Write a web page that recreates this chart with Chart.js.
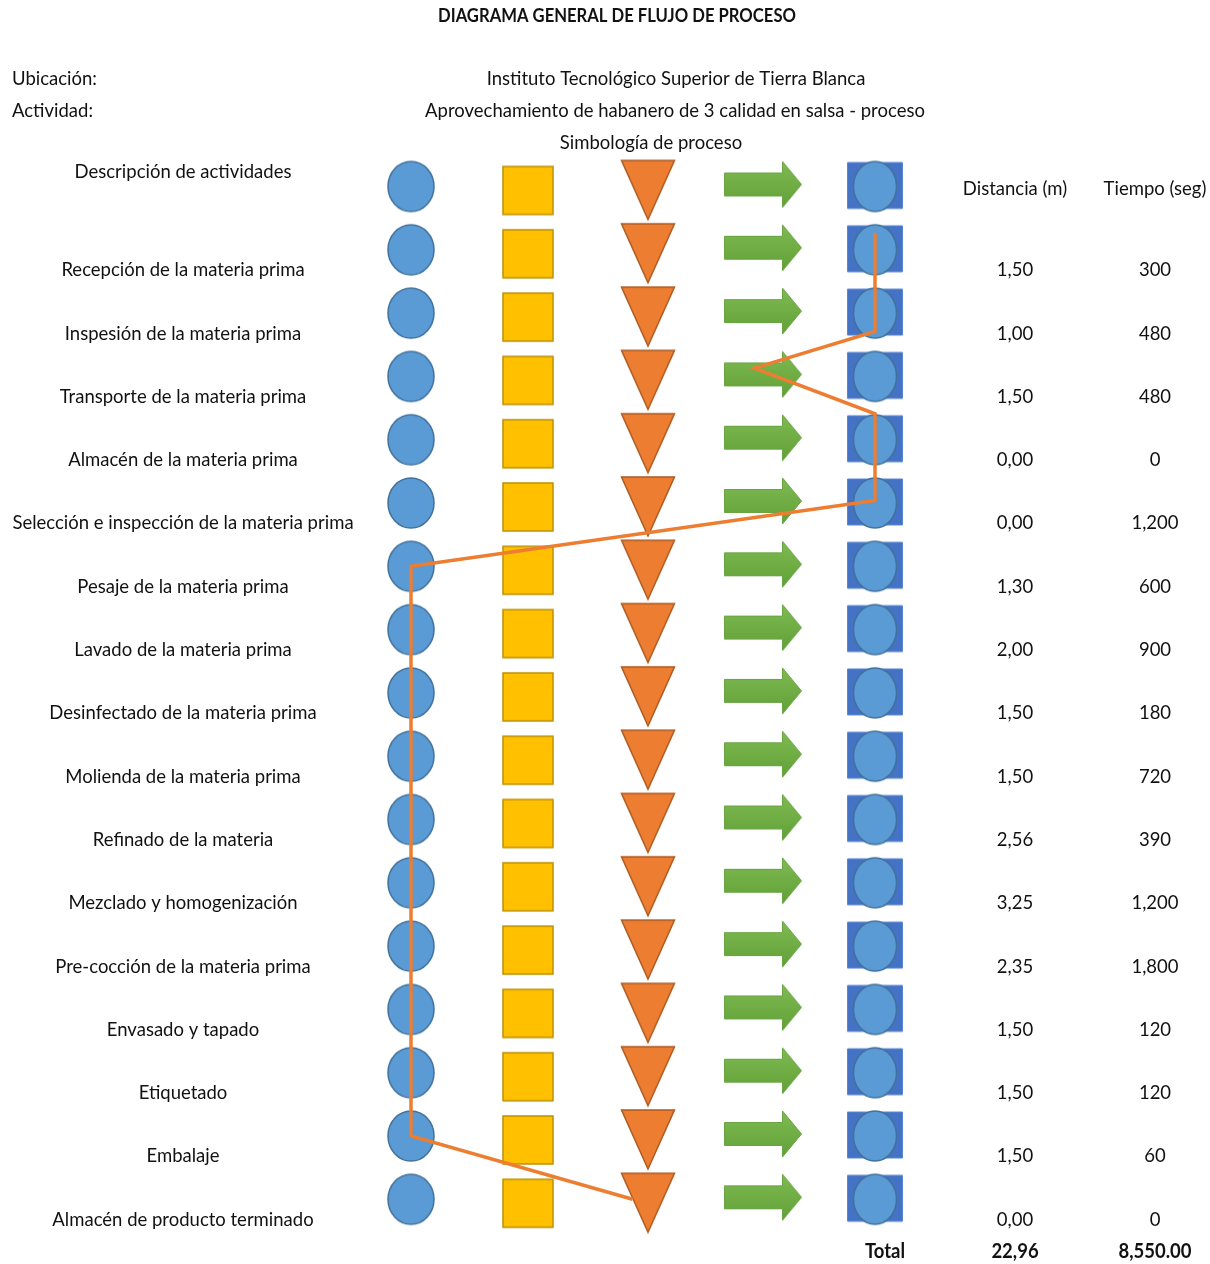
<!DOCTYPE html>
<html>
<head>
<meta charset="utf-8">
<script src="https://cdn.jsdelivr.net/npm/chart.js@4.4.1/dist/chart.umd.min.js"></script>
<style>
  html, body { margin: 0; padding: 0; background: #fff; }
  #wrap { width: 1210px; height: 1264px; }
</style>
</head>
<body>
<div id="wrap"><canvas id="flowChart" width="1210" height="1264"></canvas></div>
<script>
// activity rows (row 1..16), row 0 is the header row of symbols
const activities = [
    'Recepción de la materia prima',
    'Inspesión de la materia prima',
    'Transporte de la materia prima',
    'Almacén de la materia prima',
    'Selección e inspección de la materia prima',
    'Pesaje de la materia prima',
    'Lavado de la materia prima',
    'Desinfectado de la materia prima',
    'Molienda de la materia prima',
    'Refinado de la materia',
    'Mezclado y homogenización',
    'Pre-cocción de la materia prima',
    'Envasado y tapado',
    'Etiquetado',
    'Embalaje',
    'Almacén de producto terminado'
];
const distances = [1.50, 1.00, 1.50, 0.00, 0.00, 1.30, 2.00, 1.50, 1.50, 2.56, 3.25, 2.35, 1.50, 1.50, 1.50, 0.00];
const times = [300, 480, 480, 0, 1200, 600, 900, 180, 720, 390, 1200, 1800, 120, 120, 60, 0];

// symbol columns
const symbolNames = ['Operación', 'Inspección', 'Almacenamiento', 'Transporte', 'Operación combinada'];
const symbolCols = [0, 1, 2, 3, 4];

// orange flow line: column and row of each vertex
const flowCol = [4, 4, 2.96, 4, 4, 0, 0, 1.91];
const flowRow = [0.73, 2.29, 2.87, 3.59, 4.96, 6, 15, 16];

const FONT = 'Lato, "Liberation Sans", sans-serif';
const SQUEEZE = 0.925;

function makeSymbol(kind) {
    const c = document.createElement('canvas');
    c.width = 100; c.height = 90;
    const g = c.getContext('2d');
    g.translate(50, 45);
    g.lineWidth = 1.5;
    if (kind === 0) {
        g.beginPath();
        g.ellipse(0, 0, 23, 25, 0, 0, Math.PI * 2);
        g.fillStyle = '#5b9bd5'; g.fill();
        g.strokeStyle = '#41719c'; g.stroke();
    } else if (kind === 1) {
        g.beginPath();
        g.rect(-24, -20, 50, 48);
        g.fillStyle = '#ffc000'; g.fill();
        g.strokeStyle = '#bf9000'; g.stroke();
    } else if (kind === 2) {
        g.translate(5, 0);
        g.beginPath();
        g.moveTo(-26.5, -26); g.lineTo(26.5, -26); g.lineTo(0, 33); g.closePath();
        g.fillStyle = '#ed7d31'; g.fill();
        g.strokeStyle = '#ae5a21'; g.stroke();
    } else if (kind === 3) {
        g.translate(4, 0);
        const grad = g.createLinearGradient(0, -24, 0, 24);
        grad.addColorStop(0, '#7fba52');
        grad.addColorStop(1, '#5f9e36');
        g.beginPath();
        g.moveTo(-38.5, -13.5); g.lineTo(19.5, -13.5); g.lineTo(19.5, -25);
        g.lineTo(38.5, -2); g.lineTo(19.5, 21); g.lineTo(19.5, 9.5);
        g.lineTo(-38.5, 9.5); g.closePath();
        g.fillStyle = grad; g.fill();
        g.strokeStyle = '#6aa544'; g.lineWidth = 1; g.stroke();
    } else {
        g.beginPath();
        g.rect(-27.5, -24, 55, 46);
        g.fillStyle = '#4472c4'; g.fill();
        g.strokeStyle = '#5a86d0'; g.lineWidth = 1; g.stroke();
        g.beginPath();
        g.ellipse(0, 0, 21.5, 25, 0, 0, Math.PI * 2);
        g.fillStyle = '#5b9bd5'; g.fill();
        g.strokeStyle = '#41719c'; g.lineWidth = 1.5; g.stroke();
    }
    return c;
}

const rowIdx = [0].concat(activities.map((a, i) => i + 1));

const symbolSets = symbolCols.map((col, k) => ({
    type: 'scatter',
    label: symbolNames[k],
    data: rowIdx.map(r => ({ x: col, y: r })),
    pointStyle: makeSymbol(k),
    pointRadius: 25,
    pointHoverRadius: 25
}));

const flowSet = {
    type: 'line',
    label: 'Flujo',
    data: flowCol.map((x, i) => ({ x: x, y: flowRow[i] })),
    borderColor: '#ed7d31',
    borderWidth: 3.5,
    pointRadius: 0,
    tension: 0,
    fill: false
};

const fmtDist = v => v.toFixed(2).replace('.', ',');
const fmtTime = v => v.toLocaleString('en-US');

// layout of the text columns (pixels)
const layout = {
    descX: 183, distX: 1015, timeX: 1155, totalLabelX: 885,
    rowTextDy: 20, totalY: 1252
};

// narrow text, like the condensed face of the original
function say(ctx, str, x, y) {
    ctx.save();
    ctx.translate(x, y);
    ctx.scale(SQUEEZE, 1);
    ctx.fillText(str, 0, 0);
    ctx.restore();
}

const textPlugin = {
    id: 'flowText',
    afterDatasetsDraw(chart) {
        const ctx = chart.ctx;
        const ys = chart.scales.y;
        ctx.save();
        ctx.fillStyle = '#111';
        ctx.textBaseline = 'middle';

        ctx.font = 'bold 18px ' + FONT;
        ctx.textAlign = 'center';
        say(ctx, 'DIAGRAMA GENERAL DE FLUJO DE PROCESO', 617, 16);

        ctx.font = '20px ' + FONT;
        ctx.textAlign = 'left';
        say(ctx, 'Ubicación:', 12, 79);
        say(ctx, 'Actividad:', 12, 111);
        ctx.textAlign = 'center';
        say(ctx, 'Instituto Tecnológico Superior de Tierra Blanca', 676, 79);
        say(ctx, 'Aprovechamiento de habanero de 3 calidad en salsa - proceso', 675, 111);
        say(ctx, 'Simbología de proceso', 651, 143);
        say(ctx, 'Descripción de actividades', layout.descX, 172);
        say(ctx, 'Distancia (m)', layout.distX, 189);
        say(ctx, 'Tiempo (seg)', layout.timeX, 189);

        activities.forEach((a, i) => {
            const y = ys.getPixelForValue(i + 1) + layout.rowTextDy;
            say(ctx, a, layout.descX, y);
            say(ctx, fmtDist(distances[i]), layout.distX, y);
            say(ctx, fmtTime(times[i]), layout.timeX, y);
        });

        const totalDist = distances.reduce((s, v) => s + v, 0);
        const totalTime = times.reduce((s, v) => s + v, 0);
        ctx.font = 'bold 20px ' + FONT;
        say(ctx, 'Total', layout.totalLabelX, layout.totalY);
        say(ctx, fmtDist(totalDist), layout.distX, layout.totalY);
        say(ctx, totalTime.toLocaleString('en-US', { minimumFractionDigits: 2 }), layout.timeX, layout.totalY);
        ctx.restore();
    }
};

// column 0 at 411px, 116px per column; row 0 at 186.5px, 63.3px per row
const xMin = -411 / 116, yMin = -186.5 / 63.3;

new Chart(document.getElementById('flowChart'), {
    data: { datasets: [flowSet].concat(symbolSets) },
    options: {
        responsive: false,
        animation: false,
        events: [],
        layout: { padding: 0, autoPadding: false },
        plugins: { legend: { display: false }, tooltip: { enabled: false } },
        scales: {
            x: { type: 'linear', display: false, min: xMin, max: xMin + 1210 / 116 },
            y: { type: 'linear', display: false, reverse: true, min: yMin, max: yMin + 1264 / 63.3 }
        }
    },
    plugins: [textPlugin]
});
</script>
</body>
</html>
